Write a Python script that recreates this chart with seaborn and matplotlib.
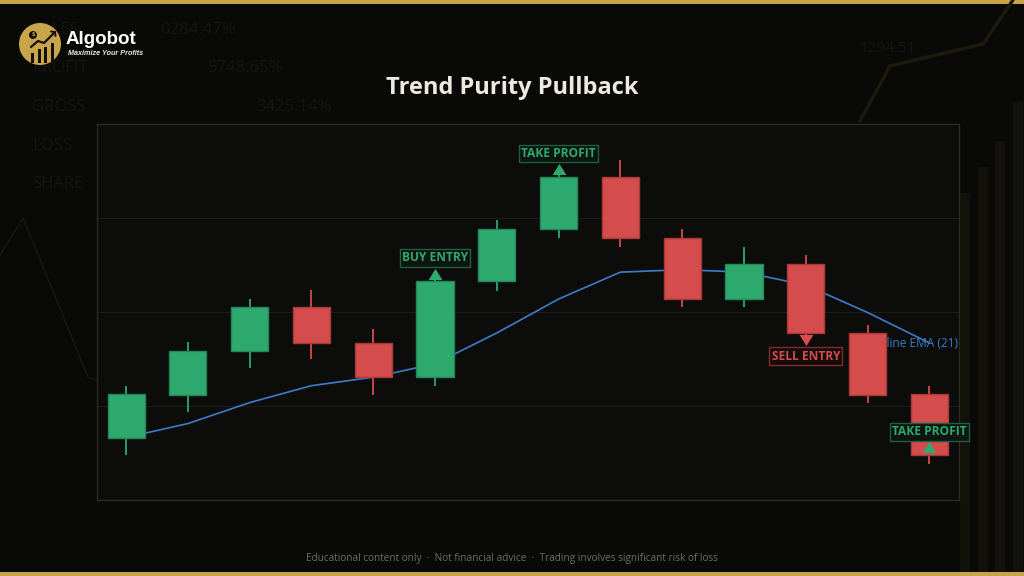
import numpy as np
import pandas as pd
import matplotlib
matplotlib.use('Agg')
import matplotlib.pyplot as plt
import matplotlib.transforms as mtransforms
import seaborn as sns
from matplotlib.patches import Circle, Rectangle

# velas (indice 0..13), precios
velas = list(range(14))
aperturas = [106.57, 111.20, 115.87, 120.50, 116.75, 113.08, 123.25, 128.80, 134.38, 127.92, 121.38, 125.09, 117.72, 111.24]
maximos = [112.16, 116.79, 121.41, 122.33, 118.17, 123.50, 129.75, 134.63, 136.18, 128.83, 126.96, 126.04, 118.62, 112.16]
minimos = [104.77, 109.33, 113.99, 114.99, 111.20, 112.08, 122.26, 127.92, 126.92, 120.50, 120.50, 117.56, 110.32, 103.86]
cierres = [111.28, 115.87, 120.50, 116.75, 113.08, 123.25, 128.83, 134.38, 127.87, 121.38, 125.09, 117.74, 111.18, 104.77]
ema21 = [106.65, 108.13, 110.36, 112.16, 113.06, 114.49, 117.77, 121.38, 124.24, 124.50, 124.24, 122.86, 119.95, 116.71]

# senales
senal_vela = [5, 7, 11, 13]
senal_precio = [123.50, 134.63, 117.56, 105.00]
senal_texto = ['BUY ENTRY', 'TAKE PROFIT', 'SELL ENTRY', 'TAKE PROFIT']
senal_arriba = [True, True, False, True]
senal_tipo = ['buy', 'buy', 'sell', 'buy']

# texto decorativo de fondo
fondo_etiquetas = ['SALES', 'PROFIT', 'GROSS', 'LOSS', 'SHARE']
fondo_valores = ['0284.47%', '5748.65%', '3425.14%']

df = pd.DataFrame({'vela': velas, 'open': aperturas, 'high': maximos,
                   'low': minimos, 'close': cierres, 'ema': ema21})

VERDE = '#2eaa6e'
VERDE_BORDE = '#22875a'
ROJO = '#d44c4c'
ROJO_BORDE = '#a83a3a'
AZUL = '#3d7cc9'
ORO = '#c9a54a'
FONDO = '#090908'

sns.set_theme(style='dark')
plt.rcParams['font.family'] = ['Open Sans', 'DejaVu Sans']

fig = plt.figure(figsize=(10.24, 5.76), dpi=100, facecolor=FONDO)

# capa de fondo en pixeles
bg = fig.add_axes([0, 0, 1, 1], zorder=-1)
bg.set_xlim(0, 1024)
bg.set_ylim(576, 0)
bg.axis('off')
bg.set_facecolor(FONDO)
bg.add_patch(Rectangle((0, 0), 1024, 4, color=ORO, lw=0))
bg.add_patch(Rectangle((0, 572), 1024, 4, color=ORO, lw=0))
for k, t in enumerate(fondo_etiquetas):
    bg.text(32, 30 + 38.5 * k, t, color='#151514', fontsize=12, va='center', family='Open Sans')
for k, t in enumerate(fondo_valores):
    bg.text(160 + 48 * k, 30 + 38.5 * k, t, color='#151514', fontsize=12, va='center', family='Open Sans')
bg.text(860, 49, '1294.51', color='#17150f', fontsize=11, va='center')
bg.plot([0, 23, 88, 97], [255, 218, 377, 380], color='#161615', lw=1.2)
bg.plot([860, 890, 983, 1013], [121, 66, 44, 0], color='#1d190c', lw=2.5)
for x0, top in zip([960, 978, 995, 1013], [193, 167, 141, 102]):
    bg.add_patch(Rectangle((x0, top), 10, 572 - top, color='#12110a', lw=0))

# logo
bg.add_patch(Circle((40, 44), 21, color=ORO, lw=0, zorder=3))
for x0, top in zip([31, 37.5, 44, 50.5], [52.7, 49.3, 46.7, 42.7]):
    bg.add_patch(Rectangle((x0, top), 3, 63 - top, color='#111111', lw=0, zorder=4))
bg.plot([31, 38, 44, 55], [47, 41, 43, 32], color='#111111', lw=1.6, solid_capstyle='round', zorder=4)
bg.plot([51, 55, 55.5], [31.5, 32, 36], color='#111111', lw=1.4, zorder=4)
bg.add_patch(Circle((33, 35), 4, color='#111111', lw=0, zorder=4))
bg.text(33, 35, '$', color=ORO, fontsize=4.5, ha='center', va='center', weight='bold', zorder=5)
bg.text(65.5, 39, 'Algobot', color='white', fontsize=13.5, weight='bold', va='center',
        family='Liberation Sans', zorder=5)
bg.text(68, 53.5, 'Maximize Your Profits', color='#e6e6e6', fontsize=5.2, weight='bold',
        style='italic', va='center', family='Liberation Sans', zorder=5)

fig.text(0.5, 1 - 88 / 576, 'Trend Purity Pullback', ha='center', va='center',
         fontsize=17, weight='bold', color='#efeadf')
fig.text(0.5, 1 - 558 / 576,
         'Educational content only  \u00b7  Not financial advice  \u00b7  Trading involves significant risk of loss',
         ha='center', va='center', fontsize=7.2, color='#6c6c6a')

# grafico principal
ax = fig.add_axes([97 / 1024, 76 / 576, 862 / 1024, 376 / 576])
ax.set_facecolor('#0c0c0b')
for s in ax.spines.values():
    s.set_color('#2d2a1f')
    s.set_linewidth(1)
ax.set_xlim(-0.47, 13.48)
ax.set_ylim(100, 140)
ax.set_yticks([110, 120, 130])
ax.set_xticks([])
ax.tick_params(length=0, labelleft=False, labelbottom=False)
ax.grid(axis='y', color='#1d1c19', lw=0.8)
ax.grid(axis='x', visible=False)

sube = df['close'] >= df['open']
relleno = np.where(sube, VERDE, ROJO)
borde = np.where(sube, VERDE_BORDE, ROJO_BORDE)

sns.lineplot(data=df, x='vela', y='ema', color=AZUL, lw=1.2, ax=ax, zorder=1)
ax.text(13.46, 116.68, 'Baseline EMA (21)', ha='right', va='center', color=AZUL,
        fontsize=8.6, zorder=1.5)
ax.vlines(df['vela'], df['low'], df['high'], colors=relleno, lw=1.3, zorder=2)
ax.bar(df['vela'], (df['close'] - df['open']).abs(), bottom=df[['open', 'close']].min(axis=1),
       width=0.6, color=relleno, edgecolor=borde, linewidth=1, zorder=3)
ax.set_xlabel('')
ax.set_ylabel('')

tri_arriba = [(0, 0.8), (-1, -0.8), (1, -0.8), (0, 0.8)]
tri_abajo = [(0, -0.8), (-1, 0.8), (1, 0.8), (0, -0.8)]
for i, p, t, arriba, tipo in zip(senal_vela, senal_precio, senal_texto, senal_arriba, senal_tipo):
    col = VERDE if tipo == 'buy' else ROJO
    ec = '#1f5e3f' if tipo == 'buy' else '#7e2c2c'
    fc = '#0c1510' if tipo == 'buy' else '#160c0c'
    sgn = 1 if arriba else -1
    tr = mtransforms.offset_copy(ax.transData, fig=fig, x=0, y=sgn * 4.0, units='points')
    ax.scatter([i], [p], marker=tri_arriba if arriba else tri_abajo, s=100, color=col,
               linewidths=0, transform=tr, zorder=5, clip_on=False)
    ax.annotate(t, xy=(i, p), xytext=(0, sgn * 15.2), textcoords='offset points',
                ha='center', va='center', color=col, fontsize=8.6, weight='bold', zorder=5,
                annotation_clip=False,
                bbox=dict(boxstyle='square,pad=0.18', fc=fc, ec=ec, lw=1))

fig.savefig('out.png', dpi=100, facecolor=FONDO)
